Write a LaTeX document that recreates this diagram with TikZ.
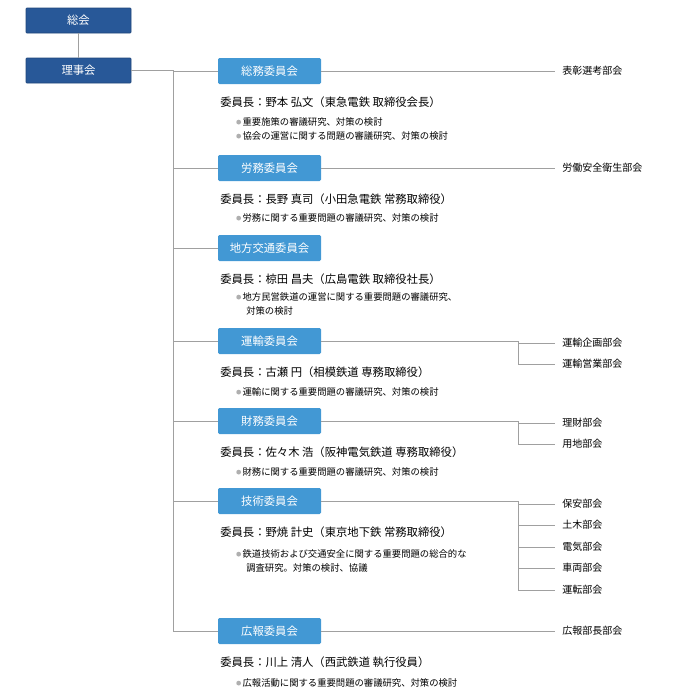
\documentclass[tikz,border=0pt]{standalone}
\usepackage{fontspec}
\setmainfont{Noto Sans CJK JP}
\usetikzlibrary{positioning}
\definecolor{darkbox}{RGB}{40,88,152}
\definecolor{lightbox}{RGB}{66,152,212}
\definecolor{linegray}{RGB}{160,160,160}
\definecolor{dotgray}{RGB}{175,175,175}

\tikzset{
  topbox/.style={fill=darkbox,draw=darkbox!80!black,text=white,minimum width=78.75pt,minimum height=18.75pt,inner sep=0pt,font=\fontsize{8.5}{10}\selectfont,rounded corners=0.5pt},
  combox/.style={fill=lightbox,text=white,minimum width=77.25pt,minimum height=19.5pt,inner sep=0pt,font=\fontsize{8.5}{10}\selectfont,rounded corners=1pt},
  chair/.style={anchor=west,inner sep=0pt,font=\fontsize{8.5}{10}\selectfont},
  duty/.style={anchor=west,inner sep=0pt,font=\fontsize{7}{9}\selectfont},
  sub/.style={anchor=west,inner sep=0pt,font=\fontsize{7.5}{9}\selectfont},
  conn/.style={draw=linegray,line width=0.6pt}
}
\newcommand{\dotmark}{\textcolor{dotgray}{\raisebox{0.2ex}{\tikz\fill (0,0) circle (1.8pt);}}\,}

\begin{document}
\begin{tikzpicture}[x=0.75pt,y=0.75pt,yscale=-1,xscale=1]
\useasboundingbox (0,0) rectangle (675,700);

% top boxes
\node [topbox] (sokai) at (78.5,20.5) {総会};
\node [topbox] (rijikai) at (78.5,70.5) {理事会};
\draw [conn] (sokai) -- (rijikai);

% committees
\node [combox] (somu) at (269.5,71) {総務委員会};
\node [combox] (romu) at (269.5,168) {労務委員会};
\node [combox] (chiho) at (269.5,248) {地方交通委員会};
\node [combox] (unyu) at (269.5,341) {運輸委員会};
\node [combox] (zaimu) at (269.5,421) {財務委員会};
\node [combox] (gijutsu) at (269.5,501) {技術委員会};
\node [combox] (koho) at (269.5,631) {広報委員会};

% trunk
\coordinate (trtop) at (173,70.5);
\coordinate (trbot) at (173,631);
\draw [conn] (rijikai.east) -- (trtop) -- (trbot);
\foreach \c in {somu,romu,chiho,unyu,zaimu,gijutsu,koho}
  \draw [conn] (\c.west -| trtop) -- (\c.west);

% sections
\node [sub] (hyosho) at (562,71) {表彰選考部会};
\node [sub] (rodo) at (562,168) {労働安全衛生部会};
\node [sub] (kikaku) at (562,343) {運輸企画部会};
\node [sub] (eigyo) at (562,364) {運輸営業部会};
\node [sub] (rizai) at (562,423) {理財部会};
\node [sub] (yochi) at (562,444) {用地部会};
\node [sub] (hoan) at (562,504) {保安部会};
\node [sub] (doboku) at (562,525) {土木部会};
\node [sub] (denki) at (562,547) {電気部会};
\node [sub] (sharyo) at (562,568) {車両部会};
\node [sub] (unten) at (562,590) {運転部会};
\node [sub] (kohobu) at (562,631) {広報部長部会};

\draw [conn] (somu.east) -- (555,71);
\draw [conn] (romu.east) -- (555,168);
\draw [conn] (koho.east) -- (555,631);

\coordinate (ubar) at (518,341);
\draw [conn] (unyu.east) -- (ubar) -- (518,364) -- (555,364);
\draw [conn] (518,343) -- (555,343);
\coordinate (zbar) at (518,421);
\draw [conn] (zaimu.east) -- (zbar) -- (518,444) -- (555,444);
\draw [conn] (518,423) -- (555,423);
\coordinate (gbar) at (518,501);
\draw [conn] (gijutsu.east) -- (gbar) -- (518,590) -- (555,590);
\foreach \y in {504,525,547,568}
  \draw [conn] (518,\y) -- (555,\y);

% chairs and duties
\node [chair] (somuc) at (220,102) {委員長：野本 弘文（東急電鉄 取締役会長）};
\node [duty] (somud1) at (236,122) {\dotmark 重要施策の審議研究、対策の検討};
\node [duty] (somud2) at (236,136) {\dotmark 協会の運営に関する問題の審議研究、対策の検討};

\node [chair] (romuc) at (220,199) {委員長：長野 真司（小田急電鉄 常務取締役）};
\node [duty] (romud) at (236,218) {\dotmark 労務に関する重要問題の審議研究、対策の検討};

\node [chair] (chihoc) at (220,279) {委員長：椋田 昌夫（広島電鉄 取締役社長）};
\node [duty] (chihod1) at (236,297) {\dotmark 地方民営鉄道の運営に関する重要問題の審議研究、};
\node [duty] (chihod2) at (246,311) {対策の検討};

\node [chair] (unyuc) at (220,372) {委員長：古瀬 円（相模鉄道 専務取締役）};
\node [duty] (unyud) at (236,392) {\dotmark 運輸に関する重要問題の審議研究、対策の検討};

\node [chair] (zaimuc) at (220,452) {委員長：佐々木 浩（阪神電気鉄道 専務取締役）};
\node [duty] (zaimud) at (236,472) {\dotmark 財務に関する重要問題の審議研究、対策の検討};

\node [chair] (gijutsuc) at (220,532) {委員長：野焼 計史（東京地下鉄 常務取締役）};
\node [duty] (gijutsud1) at (236,554) {\dotmark 鉄道技術および交通安全に関する重要問題の総合的な};
\node [duty] (gijutsud2) at (246,568) {調査研究。対策の検討、協議};

\node [chair] (kohoc) at (220,662) {委員長：川上 清人（西武鉄道 執行役員）};
\node [duty] (kohod) at (236,683) {\dotmark 広報活動に関する重要問題の審議研究、対策の検討};

\end{tikzpicture}
\end{document}
